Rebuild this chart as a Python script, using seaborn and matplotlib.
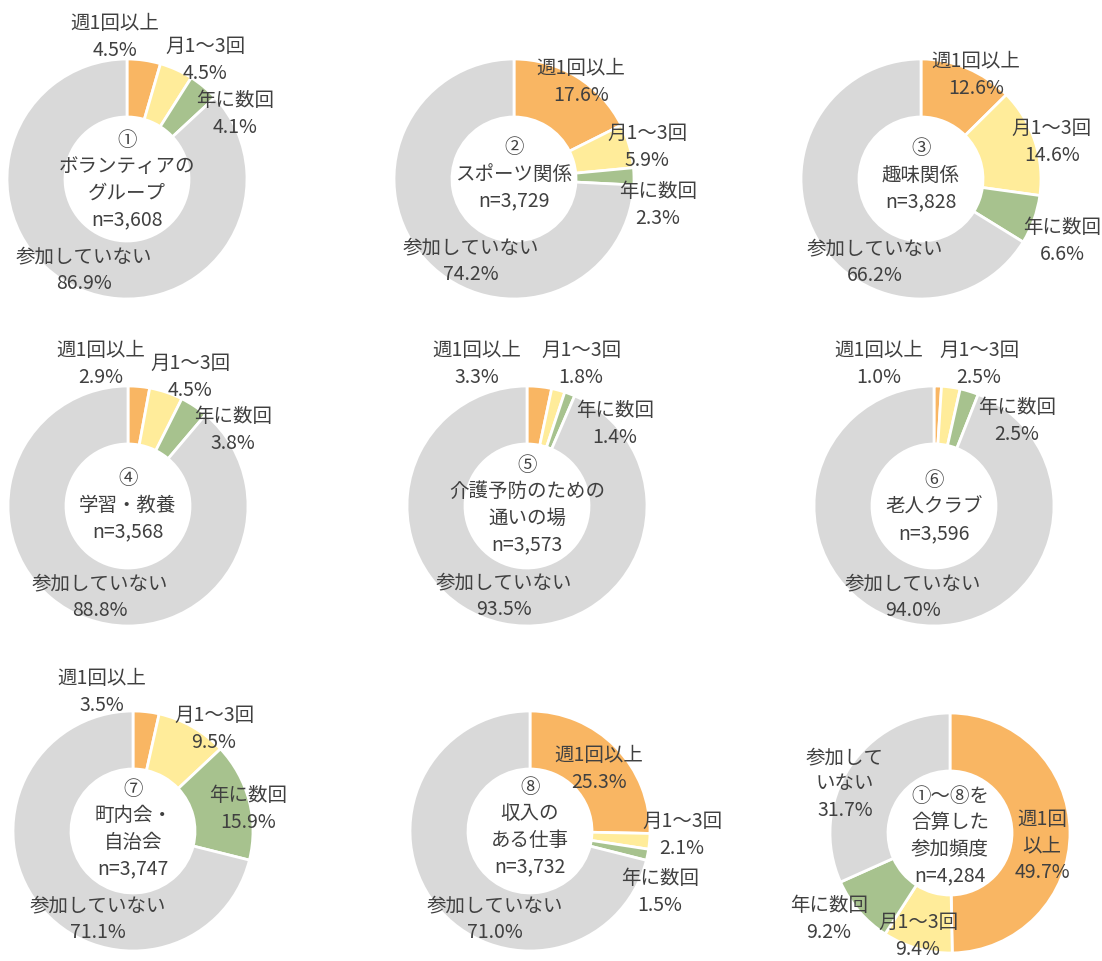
import matplotlib
matplotlib.use("Agg")
import matplotlib.pyplot as plt
import seaborn as sns

# ---- data -------------------------------------------------------------
categories = ["週1回以上", "月1～3回", "年に数回", "参加していない"]

group_titles = [
    ["①", "ボランティアの", "グループ"],
    ["②", "スポーツ関係"],
    ["③", "趣味関係"],
    ["④", "学習・教養"],
    ["⑤", "介護予防のための", "通いの場"],
    ["⑥", "老人クラブ"],
    ["⑦", "町内会・", "自治会"],
    ["⑧", "収入の", "ある仕事"],
    ["①～⑧を", "合算した", "参加頻度"],
]
sample_sizes = [3608, 3729, 3828, 3568, 3573, 3596, 3747, 3732, 4284]

weekly = [4.5, 17.6, 12.6, 2.9, 3.3, 1.0, 3.5, 25.3, 49.7]
monthly = [4.5, 5.9, 14.6, 4.5, 1.8, 2.5, 9.5, 2.1, 9.4]
yearly = [4.1, 2.3, 6.6, 3.8, 1.4, 2.5, 15.9, 1.5, 9.2]
not_joined = [86.9, 74.2, 66.2, 88.8, 93.5, 94.0, 71.1, 71.0, 31.7]

# the combined chart wraps two of its category names
combined_names = ["週1回\n以上", "月1～3回", "年に数回", "参加して\nいない"]

# ---- layout (pixel positions, y measured from the top) -----------------
W, H = 1102, 962
R_OUT, RING = 120, 58
LINE = 26.5

centers = [(127, 180), (514, 180), (921, 180),
           (128, 507), (527, 507), (934, 507),
           (133, 832), (530, 832), (950, 834)]
title_y = [180, 174, 175, 505, 505, 507, 829, 827, 836]

label_pos = [
    [(115, 37), (205, 60), (235, 114), (84, 270)],
    [(581, 82), (647, 147), (658, 205), (471, 261)],
    [(976, 75), (1052, 142), (1062, 241), (875, 262)],
    [(101, 364), (190, 377), (233, 430), (100, 597)],
    [(477, 364), (581, 364), (615, 424), (504, 596)],
    [(879, 364), (979, 364), (1017, 421), (913, 597)],
    [(102, 692), (214, 729), (248, 809), (98, 919)],
    [(599, 769), (682, 835), (660, 892), (495, 919)],
    [(1042, 846), (918, 936), (829, 919), (845, 784)],
]

colors = ["#F9B663", "#FFEC9A", "#A7C28E", "#D9D9D9"]
TEXT = "#404040"
FS = 14

sns.set_theme(style="white")
plt.rcParams["font.family"] = ["Noto Sans CJK JP", "DejaVu Sans"]

fig = plt.figure(figsize=(W / 100, H / 100), dpi=100)
ax = fig.add_axes([0, 0, 1, 1])


def put_lines(lines, x, y):
    n = len(lines)
    for i, s in enumerate(lines):
        yy = y + (i - (n - 1) / 2) * LINE
        ax.text(x, H - yy, s, ha="center", va="center",
                fontsize=FS, color=TEXT)


for k in range(9):
    vals = [weekly[k], monthly[k], yearly[k], not_joined[k]]
    cx, cy = centers[k]
    ax.pie(vals, colors=colors, startangle=90, counterclock=False,
           center=(cx, H - cy), radius=R_OUT, frame=True,
           wedgeprops=dict(width=RING, edgecolor="white", linewidth=2))

    put_lines(group_titles[k] + [f"n={sample_sizes[k]:,}"], cx, title_y[k])

    names = combined_names if k == 8 else categories
    for j, v in enumerate(vals):
        lx, ly = label_pos[k][j]
        put_lines(names[j].split("\n") + [f"{v:.1f}%"], lx, ly)

ax.set_xlim(0, W)
ax.set_ylim(0, H)
ax.set_aspect("equal")
ax.axis("off")

fig.savefig("out.png", dpi=100, facecolor="white")
